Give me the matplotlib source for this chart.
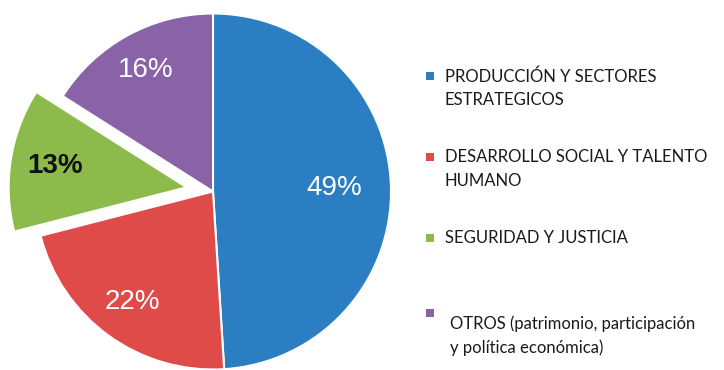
import matplotlib
matplotlib.use("Agg")
import matplotlib.pyplot as plt
import numpy as np
from matplotlib.patches import Rectangle

# Data
categories = ["PRODUCCIÓN Y SECTORES\nESTRATEGICOS",
              "DESARROLLO SOCIAL Y TALENTO\nHUMANO",
              "SEGURIDAD Y JUSTICIA",
              "OTROS (patrimonio, participación\ny política económica)"]
values = [49, 22, 13, 16]
colors = ["#2C7EC2", "#DE4B49", "#8CBB4B", "#8A62A8"]
explode = [0, 0, 0.15, 0]
label_dist = [0.68, 0.77, 0.75, 0.78]

W, H = 724, 370
fig = plt.figure(figsize=(W / 100, H / 100), dpi=100)
fig.patch.set_facecolor("white")

R = 178.0
cx, cy = 213.0, 191.5  # pixel center (from top)
ax = fig.add_axes([0, 0, 1, 1])

wedges, _ = ax.pie(values, colors=colors, explode=explode, startangle=90,
                   counterclock=False, radius=1.0,
                   wedgeprops=dict(edgecolor="white", linewidth=1.5))
ax.set_xlim(-cx / R, (W - cx) / R)
ax.set_ylim(-(H - cy) / R, cy / R)
ax.set_aspect("equal")
ax.axis("off")

for i, w in enumerate(wedges):
    ang = np.deg2rad((w.theta1 + w.theta2) / 2)
    ccx, ccy = w.center
    x = ccx + label_dist[i] * np.cos(ang)
    y = ccy + label_dist[i] * np.sin(ang)
    if i == 2:
        ax.text(x, y, f"{values[i]}%", ha="center", va="center", fontsize=20,
                fontweight="bold", color="#111111", family="Liberation Sans")
    else:
        ax.text(x, y, f"{values[i]}%", ha="center", va="center", fontsize=20,
                color="white", family="Liberation Sans")

# Legend (manual layout)
marker_y = [76, 157, 238, 313]
text_y = [76, 157, 238, 323]
text_x = [445, 445, 445, 450]
ms = 8
for i, lab in enumerate(categories):
    fig.patches.append(Rectangle(((430 - ms / 2) / W, 1 - (marker_y[i] + ms / 2) / H),
                                 ms / W, ms / H, transform=fig.transFigure,
                                 facecolor=colors[i], edgecolor="none"))
    fig.text(text_x[i] / W, 1 - (text_y[i] - 8) / H, lab, ha="left", va="top",
             fontsize=12, color="#1a1a1a", family="Lato", linespacing=1.6)

fig.savefig("out.png", dpi=100, facecolor="white")
